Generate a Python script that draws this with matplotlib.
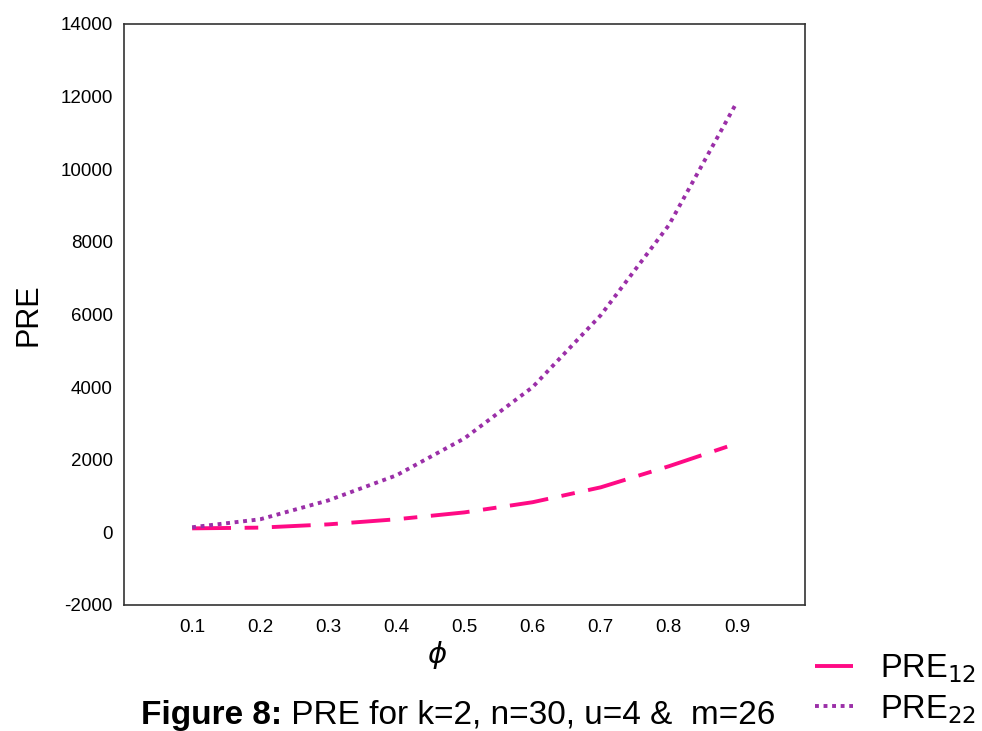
import matplotlib.pyplot as plt

plt.rcParams["font.family"] = ["Liberation Sans", "DejaVu Sans"]
plt.rcParams["axes.unicode_minus"] = False

# --- dane ---
phi = [0.1, 0.2, 0.3, 0.4, 0.5, 0.6, 0.7, 0.8, 0.9]
pre12 = [110, 130, 220, 360, 550, 830, 1240, 1820, 2450]
pre22 = [140, 360, 880, 1570, 2590, 4000, 5980, 8460, 11850]
yticks = [-2000, 0, 2000, 4000, 6000, 8000, 10000, 12000, 14000]

fig = plt.figure(figsize=(9.82, 7.31), dpi=100)
ax = fig.add_axes([0.1263, 0.1724, 0.6935, 0.7948])

l1, = ax.plot(phi, pre12, color="#FF0A85", lw=2.8, label="PRE$_{12}$")
l1.set_dashes([10, 3.5, 3.5, 3.5])
l2, = ax.plot(phi, pre22, color="#9B2FA8", lw=2.8, linestyle=(0, (1, 1.2)),
              label="PRE$_{22}$")

ax.set_xlim(0, 1.0)
ax.set_ylim(-2000, 14000)
ax.set_xticks(phi)
ax.set_xticklabels([f"{p:.1f}" for p in phi])
ax.set_yticks(yticks)
ax.tick_params(length=0, labelsize=13.5, pad=10)
ax.tick_params(axis="y", pad=8)
for s in ax.spines.values():
    s.set_color("#333333")
    s.set_linewidth(1.2)

ax.set_ylabel("PRE", fontsize=22, labelpad=12)
ax.set_xlabel(r"$\phi$", fontsize=21)
ax.xaxis.set_label_coords(0.46, -0.058)

fig.legend(handles=[l1, l2], loc="upper left",
           bbox_to_anchor=(0.830, 0.108), frameon=False, fontsize=23.5,
           handlelength=1.15, handletextpad=0.85, labelspacing=0.25,
           borderpad=0, borderaxespad=0)

# podpis: pogrubiona część + zwykły tekst
fig.text(0.287, 0.01, "Figure 8:", fontsize=24, fontweight="bold",
         ha="right", va="baseline")
fig.text(0.287, 0.01, " PRE for k=2, n=30, u=4 &  m=26", fontsize=24,
         ha="left", va="baseline")

fig.savefig("out.png", dpi=100)
